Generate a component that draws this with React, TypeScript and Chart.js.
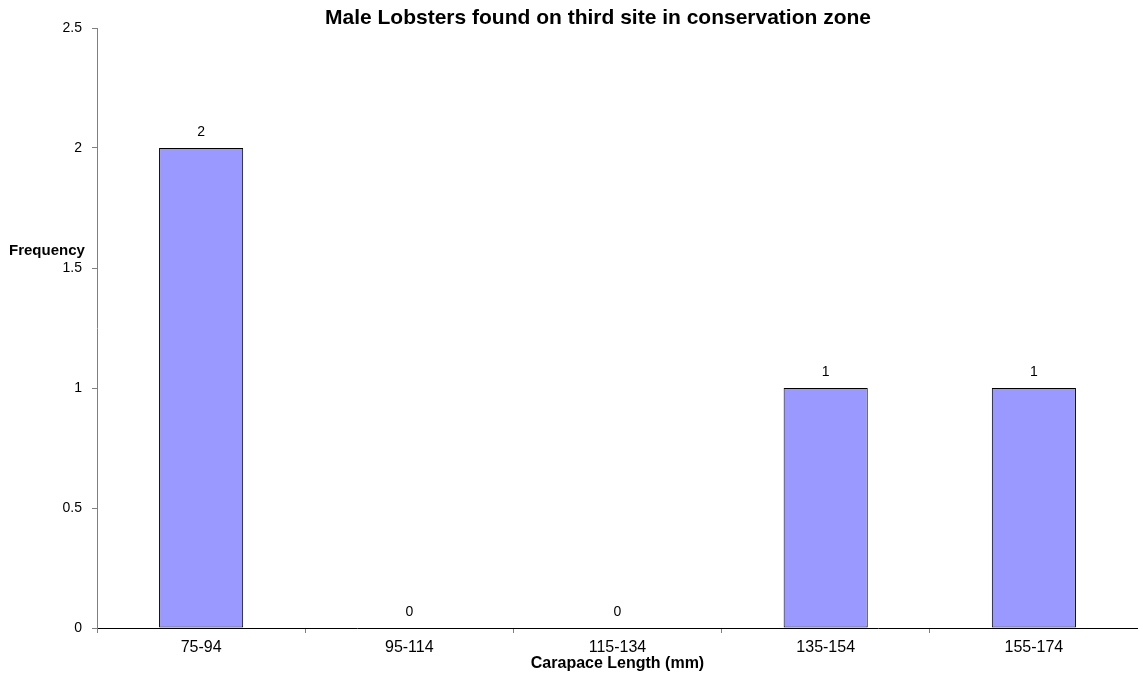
import React, { useEffect, useRef } from "react";
import { Chart, registerables } from "chart.js";

Chart.register(...registerables);

const categories = ["75-94", "95-114", "115-134", "135-154", "155-174"];
const frequencies = [2, 0, 0, 1, 1];
const yTicks = [0, 0.5, 1, 1.5, 2, 2.5];
const chartTitle = "Male Lobsters found on third site in conservation zone";
const yTitle = "Frequency";
const xTitle = "Carapace Length (mm)";

const FONT = "'Liberation Sans', Arial, sans-serif";

const textPlugin = {
  id: "texts",
  afterDatasetsDraw(chart: any) {
    const { ctx, chartArea } = chart;
    ctx.save();
    ctx.fillStyle = "#000";
    // title
    ctx.font = `bold 21px ${FONT}`;
    ctx.textAlign = "center";
    ctx.textBaseline = "middle";
    ctx.fillText(chartTitle, 598, 18);
    // y title
    ctx.font = `bold 15px ${FONT}`;
    ctx.textAlign = "left";
    ctx.fillText(yTitle, 9, 251);
    // x title
    ctx.font = `bold 16px ${FONT}`;
    ctx.textAlign = "center";
    ctx.fillText(xTitle, (chartArea.left + chartArea.right) / 2, 664);
    // data labels
    ctx.font = `14px ${FONT}`;
    ctx.textBaseline = "alphabetic";
    const meta = chart.getDatasetMeta(0);
    meta.data.forEach((bar: any, i: number) => {
      ctx.fillText(String(frequencies[i]), bar.x, bar.y - 12);
    });
    ctx.restore();
  },
};

export default function App() {
  const ref = useRef<HTMLCanvasElement>(null);
  useEffect(() => {
    if (!ref.current) return;
    const chart = new Chart(ref.current, {
      type: "bar",
      data: {
        labels: categories,
        datasets: [
          {
            data: frequencies,
            backgroundColor: "#9999FF",
            borderColor: "#000000",
            borderWidth: 1,
            borderSkipped: false,
            categoryPercentage: 1,
            barPercentage: 0.404,
          },
        ],
      },
      options: {
        animation: false,
        responsive: false,
        maintainAspectRatio: false,
        layout: { padding: { top: 28, right: 0, left: 0, bottom: 0 } },
        plugins: {
          legend: { display: false },
          title: { display: false },
          tooltip: { enabled: false },
        },
        scales: {
          x: {
            grid: {
              display: true,
              drawOnChartArea: false,
              drawTicks: true,
              tickLength: 5,
              color: "#808080",
              offset: true,
            },
            border: { display: true, color: "#000000", width: 1 },
            ticks: {
              color: "#000",
              font: { family: FONT, size: 16 },
              padding: 5,
              maxRotation: 0,
            },
            afterFit(scale: any) {
              scale.height = 63;
            },
          },
          y: {
            min: 0,
            max: 2.5,
            afterBuildTicks(scale: any) {
              scale.ticks = yTicks.map((v) => ({ value: v }));
            },
            grid: {
              display: true,
              drawOnChartArea: false,
              drawTicks: true,
              tickLength: 5,
              color: "#808080",
            },
            border: { display: true, color: "#808080", width: 1 },
            ticks: {
              color: "#000",
              font: { family: FONT, size: 14 },
              padding: 10,
              callback: (v: any) => String(v),
            },
            afterFit(scale: any) {
              scale.width = 97;
            },
          },
        },
      },
      plugins: [textPlugin],
    });
    return () => chart.destroy();
  }, []);
  return (
    <div style={{ position: "fixed", left: 0, top: 0, width: 1138, height: 691, background: "#fff" }}>
      <canvas ref={ref} width={1138} height={691} style={{ width: 1138, height: 691 }} />
    </div>
  );
}
